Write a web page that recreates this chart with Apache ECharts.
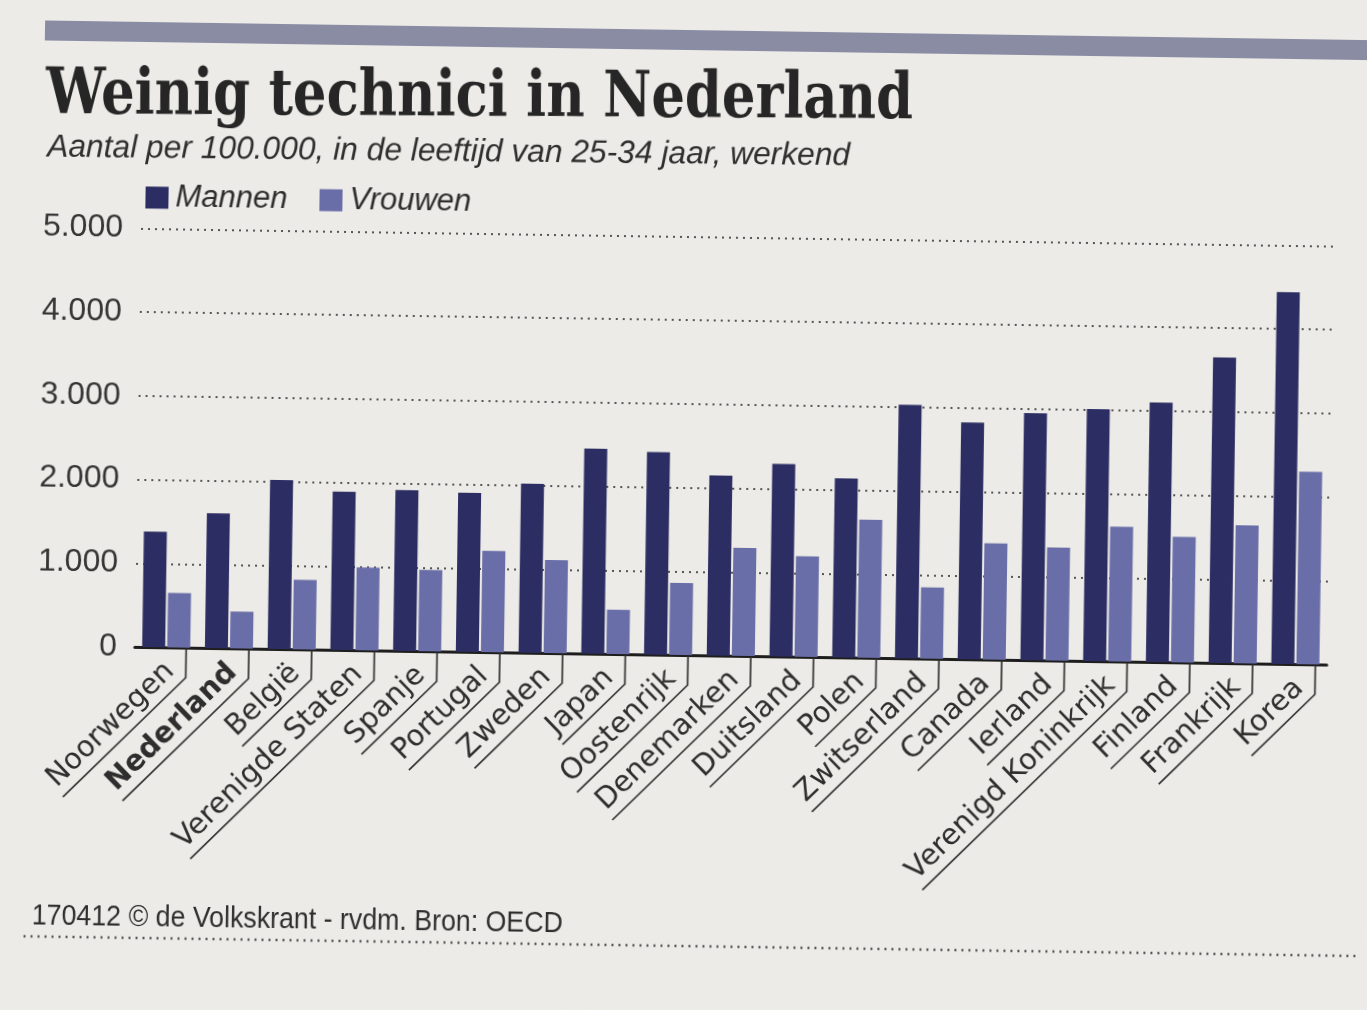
<!DOCTYPE html>
<html><head><meta charset="utf-8">
<script src="https://cdn.jsdelivr.net/npm/echarts@6/dist/echarts.min.js"></script>
<style>
html,body{margin:0;padding:0;background:#ecebe7;overflow:hidden;}
#c{width:1367px;height:1010px;transform:rotate(0.85deg);transform-origin:50% 50%;}
</style></head><body><div id="c"></div>
<script>
const categories = ['Noorwegen','Nederland','België','Verenigde Staten','Spanje','Portugal','Zweden','Japan','Oostenrijk','Denemarken','Duitsland','Polen','Zwitserland','Canada','Ierland','Verenigd Koninkrijk','Finland','Frankrijk','Korea'];
const mannen  = [1380,1610,2020,1890,1920,1900,2020,2450,2420,2150,2300,2140,3030,2830,2950,3010,3100,3650,4440];
const vrouwen = [650,440,830,990,970,1210,1110,530,860,1290,1200,1650,850,1390,1350,1610,1500,1650,2300];
const yTicks = [0,1000,2000,3000,4000,5000];
const highlight = 'Nederland';
const titleText = 'Weinig technici in Nederland';
const subtitleText = 'Aantal per 100.000, in de leeftijd van 25-34 jaar, werkend';
const footerText = '170412 © de Volkskrant - rvdm. Bron: OECD';

const ctx = document.createElement('canvas').getContext('2d');
function measure(text, font){ ctx.font = font; return ctx.measureText(text).width; }
// horizontal scale so that text of a given size spans a target width
function fitScale(text, weightStyle, size, family, target){
  return target / measure(text, weightStyle + ' ' + size + 'px ' + family);
}
const titleFam = '"DejaVu Serif", serif';
const titleSize = 64;
const titleScale = fitScale(titleText, 'bold', titleSize, titleFam, 867);
const subFam = '"Liberation Sans", sans-serif';
const subSize = 32;
const subScale = fitScale(subtitleText, 'italic', subSize, subFam, 803);
const footFam = '"Liberation Sans", sans-serif';
const footSize = 29;
const footScale = fitScale(footerText, 'normal', footSize, footFam, 531);
const labFam = '"DejaVu Sans", sans-serif';
const labSize = 29;

const MEN = '#2c2e63', WOMEN = '#6a6ea8', INK = '#2e2e2e';

const chart = echarts.init(document.getElementById('c'));
chart.setOption({
  animation: false,
  backgroundColor: '#ecebe7',
  textStyle: { fontFamily: subFam },
  grid: { left: 137, right: 38, top: 236.5, bottom: 355, containLabel: false },
  legend: {
    data: ['Mannen','Vrouwen'], left: 136, top: 185, icon: 'rect',
    itemWidth: 23, itemHeight: 22, itemGap: 32,
    textStyle: { fontSize: 31, fontStyle: 'italic', color: INK, fontFamily: subFam, padding: [0,0,0,2] }
  },
  xAxis: {
    type: 'category', data: categories,
    axisLine: { lineStyle: { color: '#1e1e1e', width: 3 } },
    axisTick: { show: false }, axisLabel: { show: false }
  },
  yAxis: {
    type: 'value', min: yTicks[0], max: yTicks[yTicks.length-1], interval: 1000,
    axisLine: { show: false }, axisTick: { show: false },
    axisLabel: { fontSize: 32, color: '#353535', margin: 18, fontFamily: subFam,
      formatter: v => String(v).replace(/\B(?=(\d{3})+(?!\d))/g, '.') },
    splitLine: { lineStyle: { type: [2,5], color: '#555', width: 2 } }
  },
  series: [
    { name: 'Mannen', type: 'bar', data: mannen, barWidth: 23, barGap: '9%', itemStyle: { color: MEN }, z: 3 },
    { name: 'Vrouwen', type: 'bar', data: vrouwen, barWidth: 23, itemStyle: { color: WOMEN }, z: 3 },
    { name: 'labels', type: 'custom', silent: true, clip: false, z: 4,
      data: categories.map((c, i) => [i, 0]),
      encode: { x: 0, y: 1 },
      renderItem(params, api) {
        const i = api.value(0);
        const p = api.coord([i, 0]);
        const tx = p[0] + 20, y0 = p[1], cy = y0 + 30;
        const name = categories[i];
        const weight = name === highlight ? 'bold' : 'normal';
        const w = measure(name, weight + ' ' + labSize + 'px ' + labFam);
        const s = Math.SQRT1_2, L = w + 6;
        return { type: 'group', children: [
          { type: 'polyline', shape: { points: [[tx, y0 + 1], [tx, cy], [tx - L * s, cy + L * s]] },
            style: { stroke: '#333', lineWidth: 1.7, fill: null } },
          { type: 'text', x: tx - 8 * s, y: cy, rotation: Math.PI / 4,
            style: { text: name, fontSize: labSize, fontFamily: labFam, fontWeight: weight,
              fill: '#2e2e2e', align: 'right', verticalAlign: 'bottom' } }
        ]};
      }
    }
  ],
  graphic: [
    { type: 'rect', shape: { x: 38, y: 30, width: 1420, height: 20 }, style: { fill: '#8a8ca4' } },
    { type: 'text', x: 40, y: 106, rotation: 0.009, scaleX: titleScale,
      style: { text: titleText, fontSize: titleSize, fontWeight: 'bold',
        fontFamily: titleFam, fill: '#262626', verticalAlign: 'middle' } },
    { type: 'text', x: 42, y: 157, rotation: 0.004, scaleX: subScale,
      style: { text: subtitleText, fontSize: subSize, fontStyle: 'italic',
        fontFamily: subFam, fill: INK, verticalAlign: 'middle' } },
    { type: 'text', x: 38, y: 926, scaleX: footScale,
      style: { text: footerText, fontSize: footSize,
        fontFamily: footFam, fill: INK, verticalAlign: 'middle' } },
    { type: 'line', shape: { x1: 30, y1: 946, x2: 1420, y2: 946 },
      style: { stroke: '#555', lineWidth: 2.5, lineDash: [2, 5] } }
  ]
});
</script></body></html>
